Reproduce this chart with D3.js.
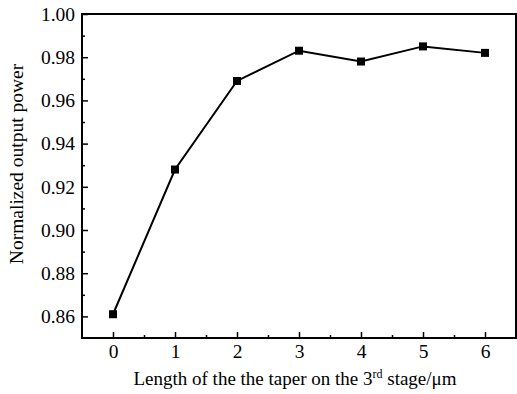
<!DOCTYPE html>
<html>
<head>
<meta charset="utf-8">
<script src="https://cdn.jsdelivr.net/npm/d3@7"></script>
<style>
  body { margin: 0; background: #fff; }
  text { font-family: "Liberation Serif", "Times New Roman", serif; fill: #000; }
</style>
</head>
<body>
<svg id="chart" width="517" height="394"></svg>
<script>
var lengths = [0, 1, 2, 3, 4, 5, 6];
var power = [0.861, 0.928, 0.969, 0.983, 0.978, 0.985, 0.982];
var yTicks = [0.86, 0.88, 0.90, 0.92, 0.94, 0.96, 0.98, 1.00];

var svg = d3.select("#chart"),
    plotL = 82, plotT = 14, plotR = 516, plotB = 338;

var x = d3.scaleLinear().domain([-0.5, 6.5]).range([plotL, plotR]);
var y = d3.scaleLinear().domain([0.85, 1.0]).range([plotB, plotT]);

// frame
svg.append("rect")
    .attr("x", plotL).attr("y", plotT)
    .attr("width", plotR - plotL).attr("height", plotB - plotT)
    .attr("fill", "none").attr("stroke", "#000").attr("stroke-width", 2);

// x axis ticks (inward)
var xAxis = svg.append("g").attr("transform", "translate(0," + plotB + ")");
xAxis.call(d3.axisBottom(x).tickValues(lengths).tickSize(-6).tickPadding(6).tickFormat(d3.format("d")));
xAxis.call(g => g.select(".domain").remove());
xAxis.selectAll("line").attr("stroke-width", 1.5);
xAxis.selectAll("text").style("font-size", "19.5px");
var xMinor = svg.append("g").attr("transform", "translate(0," + plotB + ")");
xMinor.call(d3.axisBottom(x).tickValues([0.5, 1.5, 2.5, 3.5, 4.5, 5.5]).tickSize(-3).tickFormat(""));
xMinor.call(g => g.select(".domain").remove());
xMinor.selectAll("line").attr("stroke-width", 1.5);

// y axis ticks (inward)
var yAxis = svg.append("g").attr("transform", "translate(" + plotL + ",0)");
yAxis.call(d3.axisLeft(y).tickValues(yTicks).tickSize(-6).tickPadding(7).tickFormat(d3.format(".2f")));
yAxis.call(g => g.select(".domain").remove());
yAxis.selectAll("line").attr("stroke-width", 1.5);
yAxis.selectAll("text").style("font-size", "19.5px");
var yMinor = svg.append("g").attr("transform", "translate(" + plotL + ",0)");
yMinor.call(d3.axisLeft(y).tickValues([0.87, 0.89, 0.91, 0.93, 0.95, 0.97, 0.99]).tickSize(-3).tickFormat(""));
yMinor.call(g => g.select(".domain").remove());
yMinor.selectAll("line").attr("stroke-width", 1.5);

// line
var line = d3.line().x((d, i) => x(lengths[i])).y(d => y(d));
svg.append("path")
    .datum(power)
    .attr("d", line)
    .attr("fill", "none")
    .attr("stroke", "#000")
    .attr("stroke-width", 2);

svg.selectAll("rect.pt")
    .data(power)
    .enter()
    .append("rect")
    .attr("class", "pt")
    .attr("x", (d, i) => x(lengths[i]) - 4)
    .attr("y", d => y(d) - 4)
    .attr("width", 8).attr("height", 8)
    .attr("fill", "#000");

// axis titles
var xt = svg.append("text")
    .attr("x", 295).attr("y", 385)
    .attr("text-anchor", "middle")
    .style("font-size", "19px");
xt.append("tspan").text("Length of the the taper on the 3");
xt.append("tspan").attr("dy", -7).style("font-size", "12px").text("rd");
xt.append("tspan").attr("dy", 7).text(" stage/\u03bcm");

svg.append("text")
    .attr("transform", "translate(23,164) rotate(-90)")
    .attr("text-anchor", "middle")
    .style("font-size", "19.5px")
    .text("Normalized output power");
</script>
</body>
</html>
